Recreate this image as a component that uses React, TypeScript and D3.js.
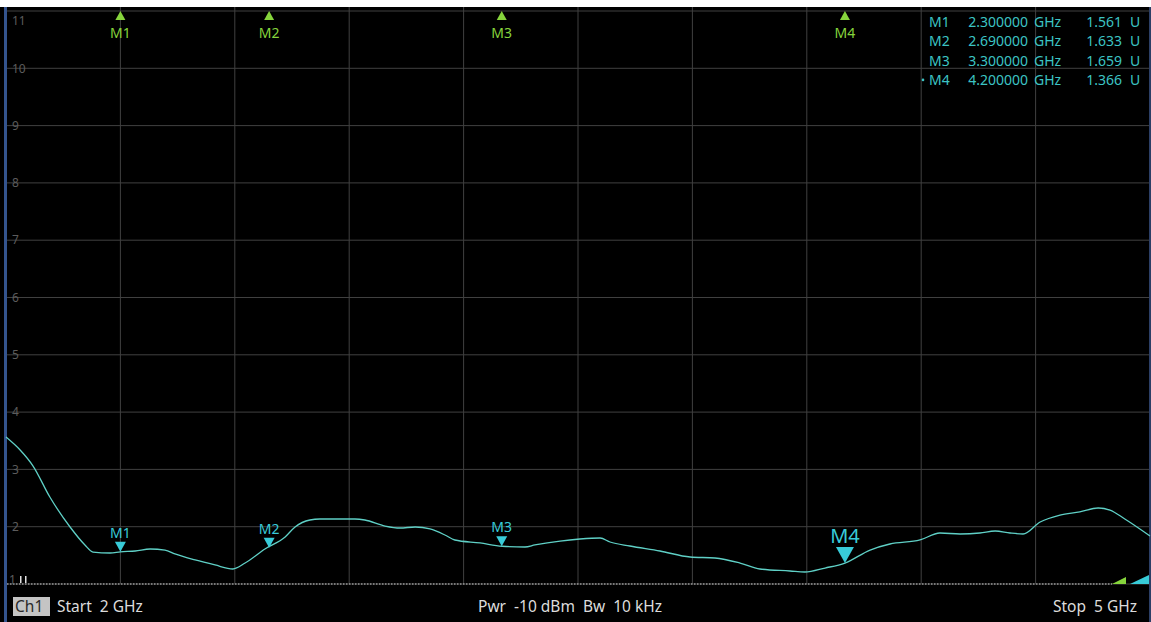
import React from "react";
import * as d3 from "d3";

// ---- data ----
const freqGHz = [2.000, 2.037, 2.071, 2.115, 2.168, 2.207, 2.228, 2.273, 2.300, 2.339, 2.378, 2.417, 2.443, 2.496, 2.548, 2.595, 2.627, 2.679, 2.732, 2.758, 2.797, 2.823, 2.915, 2.941, 2.994, 3.033, 3.073, 3.112, 3.151, 3.177, 3.243, 3.301, 3.361, 3.387, 3.453, 3.505, 3.558, 3.584, 3.636, 3.715, 3.794, 3.859, 3.925, 3.977, 4.056, 4.095, 4.148, 4.200, 4.266, 4.318, 4.397, 4.449, 4.502, 4.554, 4.594, 4.633, 4.667, 4.712, 4.764, 4.816, 4.864, 4.895, 4.934, 5.000];
const vswr = [3.565, 3.339, 3.059, 2.518, 1.995, 1.681, 1.558, 1.541, 1.561, 1.576, 1.611, 1.593, 1.524, 1.419, 1.332, 1.262, 1.366, 1.611, 1.820, 1.995, 2.117, 2.134, 2.134, 2.117, 2.012, 1.977, 1.995, 1.960, 1.855, 1.768, 1.716, 1.659, 1.646, 1.681, 1.750, 1.785, 1.803, 1.733, 1.663, 1.576, 1.471, 1.454, 1.366, 1.262, 1.227, 1.209, 1.279, 1.366, 1.593, 1.698, 1.768, 1.890, 1.873, 1.890, 1.925, 1.890, 1.873, 2.082, 2.204, 2.257, 2.326, 2.291, 2.134, 1.838];

const markerNames = ["M1", "M2", "M3", "M4"];
const markerFreq = [2.3, 2.69, 3.3, 4.2];
const markerValue = [1.561, 1.633, 1.659, 1.366];
const markerFreqText = ["2.300000", "2.690000", "3.300000", "4.200000"];
const markerValueText = ["1.561", "1.633", "1.659", "1.366"];
const activeMarker = 3;

const yTicks = [1, 2, 3, 4, 5, 6, 7, 8, 9, 10, 11];
const xDomain = [2, 5];
const yDomain = [1, 11];

const FONT = "'Noto Sans', 'Open Sans', sans-serif";
const GREEN = "#86d43c";
const CYAN = "#38cbd8";
const TRACE = "#5fd0c6";
const TABLE = "#3cc4c4";
const GRID = "#404040";

export default function App() {
  const W = 1151, H = 622;
  const x = d3.scaleLinear().domain(xDomain).range([6, 1150]);
  const y = d3.scaleLinear().domain(yDomain).range([584, 11]);
  const xGrid = d3.range(0, 11).map((i) => xDomain[0] + (i * (xDomain[1] - xDomain[0])) / 10);

  const pts = freqGHz.map((f, i) => [f, vswr[i]] as [number, number]);
  const line = d3.line<[number, number]>().x((d) => x(d[0])).y((d) => y(d[1])).curve(d3.curveMonotoneX);

  return (
    <svg width={W} height={H} style={{ position: "absolute", left: 0, top: 0, display: "block" }} fontFamily={FONT}>
      <rect x={0} y={0} width={W} height={H} fill="#ffffff" />
      <rect x={0} y={7} width={W} height={H - 7} fill="#000000" />
      {/* side borders */}
      <rect x={4} y={7} width={3} height={H - 7} fill="#34548e" />
      <rect x={1149} y={7} width={2} height={H - 7} fill="#2c3f66" />

      {/* grid */}
      {yTicks.map((t) => (
        <line key={"h" + t} x1={7} x2={1149} y1={y(t)} y2={y(t)} stroke={GRID} strokeWidth={1} />
      ))}
      {xGrid.slice(1, 10).map((f, i) => (
        <line key={"v" + i} x1={x(f)} x2={x(f)} y1={7} y2={584} stroke={GRID} strokeWidth={1} />
      ))}
      {/* reference dotted line */}
      <line x1={7} x2={1112} y1={y(1)} y2={y(1)} stroke="#d0d0d0" strokeWidth={1} strokeDasharray="1.5 1.5" />

      {/* y labels */}
      {yTicks.map((t) => {
        let cy = y(t);
        if (t === 11) cy = 21;
        if (t === 1) cy = 580;
        return (
          <text key={"yl" + t} x={t === 1 ? 9 : 12} y={cy} dy="0.35em" fontSize={12} fill="#5c5c5c">
            {t}
          </text>
        );
      })}
      <rect x={20} y={576} width={1.5} height={7} fill="#e0e0e0" />
      <rect x={25} y={576} width={1.5} height={7} fill="#e0e0e0" />

      {/* trace */}
      <path d={line(pts) || ""} fill="none" stroke={TRACE} strokeWidth={1.3} />

      {/* top stimulus markers */}
      {markerNames.map((m, i) => {
        const cx = x(markerFreq[i]);
        return (
          <g key={"tm" + m}>
            <path d={`M${cx},11 L${cx - 5},20 L${cx + 5},20 Z`} fill={GREEN} />
            <text x={cx} y={33} dy="0.35em" textAnchor="middle" fontSize={14} fill={GREEN}>
              {m}
            </text>
          </g>
        );
      })}

      {/* trace markers */}
      {markerNames.map((m, i) => {
        const cx = x(markerFreq[i]);
        const cy = y(markerValue[i]);
        const active = i === activeMarker;
        const w = active ? 9 : 5.5;
        const h = active ? 16 : 10;
        return (
          <g key={"mk" + m}>
            <path d={`M${cx},${cy} L${cx - w},${cy - h} L${cx + w},${cy - h} Z`} fill={CYAN} />
            <text x={cx} y={cy - h - (active ? 11 : 9)} dy="0.35em" textAnchor="middle" fontSize={active ? 20 : 14} fill={CYAN}>
              {m}
            </text>
          </g>
        );
      })}

      {/* marker table */}
      {markerNames.map((m, i) => {
        const by = 27 + i * 19.3;
        return (
          <g key={"tb" + m} fontSize={14} fill={TABLE}>
            {i === activeMarker && <circle cx={923} cy={by - 5} r={1.3} fill={TABLE} />}
            <text x={929} y={by}>{m}</text>
            <text x={1028} y={by} textAnchor="end">{markerFreqText[i]}</text>
            <text x={1034} y={by}>GHz</text>
            <text x={1122} y={by} textAnchor="end">{markerValueText[i]}</text>
            <text x={1130} y={by}>U</text>
          </g>
        );
      })}

      {/* bottom right scroll indicators */}
      <path d="M1112,584 L1126,577 L1126,584 Z" fill={GREEN} />
      <path d="M1130,584 L1149,575 L1149,584 Z" fill={CYAN} />

      {/* bottom bar */}
      <rect x={13} y={597} width={37} height={19} fill="#c4c4c4" />
      <text x={15} y={607} dy="0.35em" fontSize={15.5} fill="#2a2a2a">Ch1</text>
      <text x={57} y={607} dy="0.35em" fontSize={15.5} fill="#dcdcdc" style={{ whiteSpace: "pre" }}>Start  2 GHz</text>
      <text x={478} y={607} dy="0.35em" fontSize={15.5} fill="#dcdcdc" style={{ whiteSpace: "pre" }}>Pwr  -10 dBm  Bw  10 kHz</text>
      <text x={1137} y={607} dy="0.35em" fontSize={15.5} fill="#dcdcdc" textAnchor="end" style={{ whiteSpace: "pre" }}>Stop  5 GHz</text>
    </svg>
  );
}
